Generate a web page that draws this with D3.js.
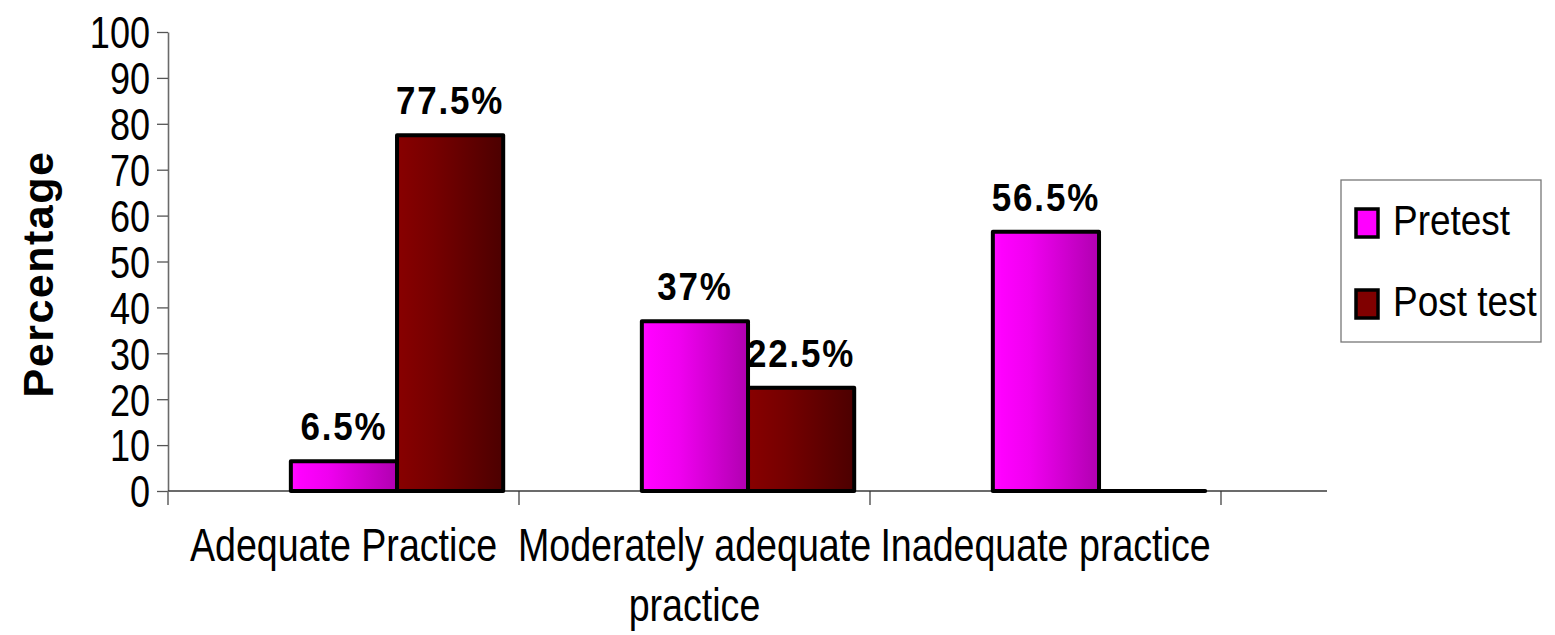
<!DOCTYPE html>
<html>
<head>
<meta charset="utf-8">
<script src="https://cdn.jsdelivr.net/npm/d3@7"></script>
<style>
  html, body { margin: 0; padding: 0; background: #fff; }
  svg { display: block; font-family: "Liberation Sans", Arial, sans-serif; }
</style>
</head>
<body>
<svg id="chart" width="1555" height="635"></svg>
<script>
// Practice levels before and after the intervention (percent of respondents)
const categories = ["Adequate Practice", "Moderately adequate practice", "Inadequate practice"];
const seriesNames = ["Pretest", "Post test"];
const pretestValues = [6.5, 37, 56.5];
const posttestValues = [77.5, 22.5, 0];
const valueLabels = [["6.5%", "37%", "56.5%"], ["77.5%", "22.5%", "0"]];
const yTickValues = [0, 10, 20, 30, 40, 50, 60, 70, 80, 90, 100];
const yTitle = "Percentage";

const seriesValues = [pretestValues, posttestValues];
const rows = categories.map((c, i) => ({
  category: c,
  values: seriesNames.map((s, k) => ({ series: s, value: seriesValues[k][i], label: valueLabels[k][i] }))
}));

const svg = d3.select("#chart");

// plot geometry
const plotLeft = 168, plotTop = 32, plotBottom = 491, axisEnd = 1327, bandEnd = 1221;

const x0 = d3.scaleBand().domain(categories).range([plotLeft, bandEnd]).padding(0);
const bw = x0.bandwidth();
const x1 = d3.scaleBand().domain(seriesNames).range([bw * 0.35, bw * 0.955]).padding(0);
const y = d3.scaleLinear().domain([0, 100]).range([plotBottom, plotTop]);

// gradients for the bar faces
const defs = svg.append("defs");
const gradStops = {
  "Pretest": [["0%", "#ff10ff"], ["8%", "#ff00ff"], ["35%", "#f000f0"], ["100%", "#b000b0"]],
  "Post test": [["0%", "#880000"], ["8%", "#840000"], ["35%", "#760000"], ["100%", "#4c0000"]]
};
const swatchColor = { "Pretest": "#ff00ff", "Post test": "#800000" };
seriesNames.forEach((s, i) => {
  const g = defs.append("linearGradient").attr("id", "grad" + i)
    .attr("x1", "0%").attr("x2", "100%").attr("y1", "0%").attr("y2", "0%");
  gradStops[s].forEach(([o, c]) => g.append("stop").attr("offset", o).attr("stop-color", c));
});

// y axis
const tickScale = 0.82;
const yAxis = svg.append("g").attr("transform", `translate(${plotLeft},0)`)
  .call(d3.axisLeft(y).tickValues(yTickValues).tickSize(11).tickSizeOuter(0).tickFormat(d3.format("d")));
yAxis.select(".domain").attr("stroke", "#6a6a6a").attr("stroke-width", 1.6);
yAxis.selectAll(".tick line").attr("stroke", "#555").attr("stroke-width", 1.3);
yAxis.selectAll(".tick text")
  .attr("font-size", 44).attr("fill", "#000")
  .attr("font-family", "'Liberation Sans', Arial, sans-serif")
  .attr("text-anchor", "end")
  .attr("x", -18 / tickScale).attr("dy", "0.36em")
  .attr("transform", `scale(${tickScale},1)`);

// x axis line and category boundary ticks
svg.append("line").attr("x1", plotLeft).attr("x2", axisEnd).attr("y1", y(0)).attr("y2", y(0))
  .attr("stroke", "#3a3a3a").attr("stroke-width", 1.4);
const boundaries = categories.map(c => x0(c)).concat([x0(categories[categories.length - 1]) + bw]);
svg.append("g").selectAll("line").data(boundaries).join("line")
  .attr("x1", d => d).attr("x2", d => d)
  .attr("y1", y(0)).attr("y2", y(0) + 14)
  .attr("stroke", (d, i) => i === 0 ? "#6a6a6a" : "#333").attr("stroke-width", (d, i) => i === 0 ? 1.6 : 1.2);

// bars (drawn as paths so an empty bar still shows its outline)
const groups = svg.append("g").selectAll("g").data(rows).join("g")
  .attr("transform", d => `translate(${x0(d.category)},0)`);

groups.selectAll("path").data(d => d.values).join("path")
  .attr("d", d => {
    const x = x1(d.series), w = x1.bandwidth();
    const yt = y(d.value);
    return `M${x},${y(0)}V${yt}H${x + w}V${y(0)}Z`;
  })
  .attr("fill", d => "url(#grad" + seriesNames.indexOf(d.series) + ")")
  .attr("stroke", "#000").attr("stroke-width", 4).attr("stroke-linejoin", "round");

// value labels
const labelScale = 0.92;
groups.selectAll("text").data(d => d.values.filter(v => v.value > 0)).join("text")
  .attr("transform", d => `translate(${x1(d.series) + x1.bandwidth() / 2},${y(d.value) - 21}) scale(${labelScale},1)`)
  .attr("text-anchor", "middle")
  .attr("font-size", 38).attr("font-weight", "bold").attr("letter-spacing", 2)
  .attr("fill", "#000")
  .text(d => d.label);

// category labels, wrapped when a label is wider than its band
const catScale = 0.8, catSize = 47, lineGap = 60, wrapWidth = bw * 1.05;
svg.append("g").selectAll("text").data(categories).join("text")
  .attr("transform", d => `translate(${x0(d) + bw / 2},561) scale(${catScale},1)`)
  .attr("text-anchor", "middle").attr("font-size", catSize).attr("fill", "#000")
  .each(function (d) {
    const t = d3.select(this);
    const words = d.split(" ");
    let line = [], lineNo = 0;
    let tspan = t.append("tspan").attr("x", 0).attr("y", 0);
    words.forEach(w => {
      line.push(w);
      tspan.text(line.join(" "));
      if (tspan.node().getComputedTextLength() * catScale > wrapWidth && line.length > 1) {
        line.pop();
        tspan.text(line.join(" "));
        line = [w];
        lineNo++;
        tspan = t.append("tspan").attr("x", 0).attr("y", lineNo * lineGap).text(w);
      }
    });
  });

// y axis title
svg.append("text")
  .attr("transform", `translate(53,274) rotate(-90)`)
  .attr("text-anchor", "middle")
  .attr("font-size", 43).attr("font-weight", "bold").attr("letter-spacing", 1.5)
  .attr("fill", "#000")
  .text(yTitle);

// legend
const legend = svg.append("g").attr("transform", "translate(1341,180)");
legend.append("rect").attr("x", 0).attr("y", 0).attr("width", 200).attr("height", 162)
  .attr("fill", "#fff").attr("stroke", "#777").attr("stroke-width", 1.3);
const items = legend.selectAll("g.item").data(seriesNames).join("g").attr("class", "item")
  .attr("transform", (d, i) => `translate(0,${29 + i * 81})`);
items.append("rect").attr("x", 15).attr("y", 0).attr("width", 22).attr("height", 28)
  .attr("fill", d => swatchColor[d]).attr("stroke", "#000").attr("stroke-width", 3.5);
items.append("text")
  .attr("transform", `translate(52,26) scale(0.88,1)`)
  .attr("font-size", 42).attr("fill", "#000")
  .text(d => d);
</script>
</body>
</html>
